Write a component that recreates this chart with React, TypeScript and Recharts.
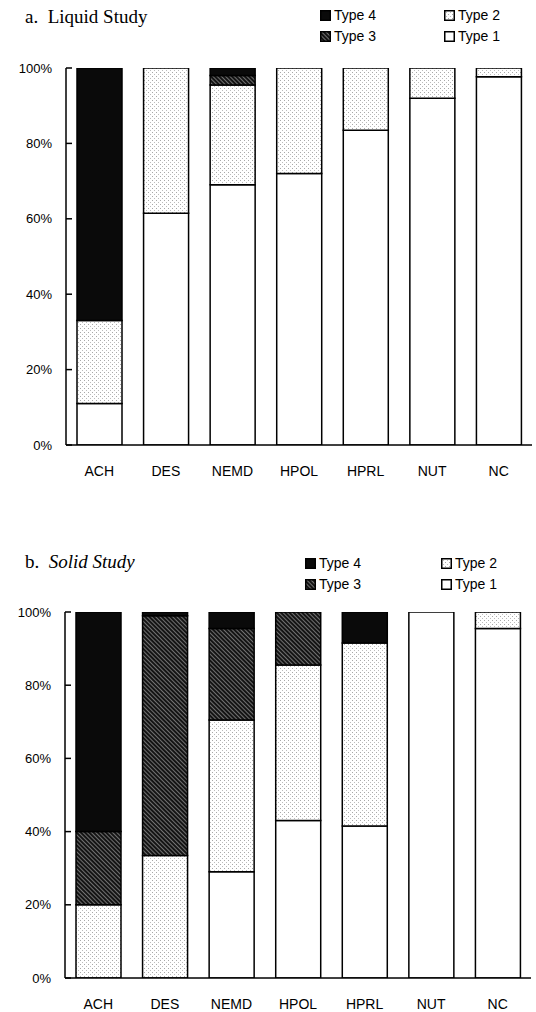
import React from 'react';
import { BarChart, Bar, XAxis, YAxis, Legend } from 'recharts';

const categories = ['ACH', 'DES', 'NEMD', 'HPOL', 'HPRL', 'NUT', 'NC'];

// a. Liquid Study (percent of each category)
const liquidType1 = [11, 61.5, 69, 72, 83.5, 92, 97.7];
const liquidType2 = [22, 38.5, 26.5, 28, 16.5, 8, 2.3];
const liquidType3 = [0, 0, 2.5, 0, 0, 0, 0];
const liquidType4 = [67, 0, 2, 0, 0, 0, 0];

// b. Solid Study
const solidType1 = [0, 0, 29, 43, 41.5, 100, 95.5];
const solidType2 = [20, 33.5, 41.5, 42.5, 50, 0, 4.5];
const solidType3 = [20, 65.5, 25, 14.5, 0, 0, 0];
const solidType4 = [60, 1, 4.5, 0, 8.5, 0, 0];

const yTicks = [0, 20, 40, 60, 80, 100];
const seriesNames = ['Type 1', 'Type 2', 'Type 3', 'Type 4'];

const build = (t1: number[], t2: number[], t3: number[], t4: number[]) =>
  categories.map((c, i) => ({ cat: c, t1: t1[i], t2: t2[i], t3: t3[i], t4: t4[i] }));

const liquidData = build(liquidType1, liquidType2, liquidType3, liquidType4);
const solidData = build(solidType1, solidType2, solidType3, solidType4);

const FILLS: Record<string, string> = {
  t1: '#ffffff',
  t2: 'url(#dotPat)',
  t3: 'url(#hatchPat)',
  t4: '#0a0a0a',
};

const sans = '"Liberation Sans", Arial, sans-serif';
const serif = '"Liberation Serif", "Times New Roman", serif';

const Swatch = ({ fill }: { fill: string }) => (
  <svg width={11} height={11} style={{ display: 'block' }}>
    <rect x={0.75} y={0.75} width={9.5} height={9.5} fill={fill} stroke="#000" strokeWidth={1.5} />
  </svg>
);

const makeLegend = (leftCol: number, rightCol: number, top: number) => () => {
  const item = (key: string, name: string, x: number, y: number) => (
    <div
      key={key}
      style={{
        position: 'absolute',
        left: x,
        top: y,
        display: 'flex',
        alignItems: 'center',
        gap: 3,
        fontFamily: sans,
        fontSize: 14,
        color: '#000',
        whiteSpace: 'nowrap',
      }}
    >
      <Swatch fill={FILLS[key]} />
      <span>{name}</span>
    </div>
  );
  return (
    <div style={{ position: 'relative', width: 536, height: 60 }}>
      {item('t4', seriesNames[3], leftCol, top)}
      {item('t3', seriesNames[2], leftCol, top + 21)}
      {item('t2', seriesNames[1], rightCol, top)}
      {item('t1', seriesNames[0], rightCol, top + 21)}
    </div>
  );
};

const Panel = ({
  data,
  height,
  marginTop,
  marginBottom,
  yWidth,
  legend,
}: {
  data: any[];
  height: number;
  marginTop: number;
  marginBottom: number;
  yWidth: number;
  legend: () => React.ReactElement;
}) => (
  <BarChart
    width={536}
    height={height}
    data={data}
    margin={{ top: marginTop, right: 536 - 532 + (66 - yWidth), bottom: marginBottom, left: 0 }}
    barSize={45}
  >
    <Legend
      verticalAlign="middle"
      align="center"
      layout="horizontal"
      content={legend}
      wrapperStyle={{ top: 0, left: 0, width: 536, height: 60 }}
    />
    <XAxis
      dataKey="cat"
      height={30}
      axisLine={{ stroke: '#000', strokeWidth: 1.5 }}
      tickLine={false}
      tickSize={0}
      tickMargin={21}
      tick={{ fill: '#000', fontSize: 14, fontFamily: sans }}
      interval={0}
    />
    <YAxis
      width={yWidth}
      domain={[0, 100]}
      ticks={yTicks}
      allowDataOverflow
      tickFormatter={(v: number) => `${v}%`}
      axisLine={{ stroke: '#000', strokeWidth: 1.5 }}
      tickLine={{ stroke: '#000', strokeWidth: 1.5 }}
      tickSize={-6}
      tickMargin={20}
      tick={{ fill: '#000', fontSize: 13, fontFamily: sans }}
    />
    {['t1', 't2', 't3', 't4'].map((k, i) => (
      <Bar
        key={k}
        dataKey={k}
        name={seriesNames[i]}
        stackId="s"
        fill={FILLS[k]}
        stroke="#000"
        strokeWidth={1.5}
        isAnimationActive={false}
      />
    ))}
  </BarChart>
);

export default function App() {
  return (
    <div style={{ position: 'absolute', left: 0, top: 0, width: 536, height: 1012, background: '#fff' }}>
      <svg width={0} height={0} style={{ position: 'absolute' }}>
        <defs>
          <pattern id="dotPat" width={4} height={4} patternUnits="userSpaceOnUse">
            <rect width={4} height={4} fill="#ffffff" />
            <rect x={0} y={0} width={1} height={1} fill="#a8a8a8" />
            <rect x={2} y={2} width={1} height={1} fill="#bcbcbc" />
          </pattern>
          <pattern
            id="hatchPat"
            width={3}
            height={3}
            patternUnits="userSpaceOnUse"
            patternTransform="rotate(-45)"
          >
            <rect width={3} height={3} fill="#141414" />
            <line x1={0.5} y1={0} x2={0.5} y2={3} stroke="#9a9a9a" strokeWidth={0.7} />
          </pattern>
        </defs>
      </svg>

      <div style={{ position: 'absolute', left: 0, top: 0, width: 536, height: 500 }}>
        <Panel
          data={liquidData}
          height={500}
          marginTop={68}
          marginBottom={25}
          yWidth={66}
          legend={makeLegend(320, 444, 7)}
        />
        <div
          style={{
            position: 'absolute',
            left: 25,
            top: 6,
            fontFamily: serif,
            fontSize: 19,
            color: '#000',
            whiteSpace: 'pre',
          }}
        >
          {'a.  Liquid Study'}
        </div>
      </div>

      <div style={{ position: 'absolute', left: 0, top: 500, width: 536, height: 512 }}>
        <Panel
          data={solidData}
          height={512}
          marginTop={112}
          marginBottom={4}
          yWidth={65}
          legend={makeLegend(305, 441, 55)}
        />
        <div
          style={{
            position: 'absolute',
            left: 25,
            top: 51,
            fontFamily: serif,
            fontSize: 19,
            color: '#000',
            whiteSpace: 'pre',
          }}
        >
          b.  <i>Solid Study</i>
        </div>
      </div>
    </div>
  );
}
